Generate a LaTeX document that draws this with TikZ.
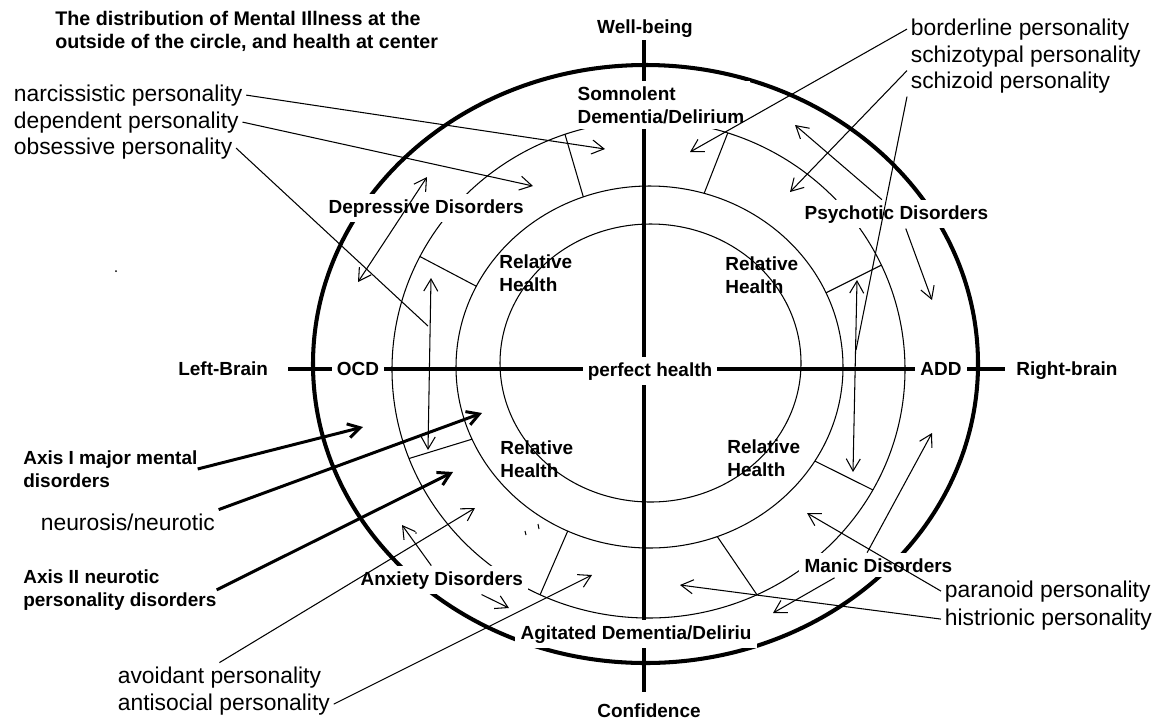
\documentclass[tikz,border=0pt]{standalone}
\usepackage{fontspec}
\setmainfont{Liberation Sans}
\usetikzlibrary{arrows.meta,calc}

\begin{document}
\begin{tikzpicture}[
      x=0.02cm, y=-0.02cm,
      lbl/.style={font=\fontsize{10.8}{12.8}\selectfont\bfseries, inner sep=0pt},
      tag/.style={lbl, fill=white, inner sep=3pt},
      pers/.style={font=\fontsize{13}{15}\selectfont, inner sep=2pt},
      ring/.style={line width=0.6pt},
      axis/.style={line width=2.3pt},
      arrow/.style={line width=0.6pt, -{Straight Barb[length=6.9pt,width=8pt]}},
      twoway/.style={line width=0.6pt, {Straight Barb[length=6.9pt,width=8pt]}-{Straight Barb[length=6.9pt,width=8pt]}},
      bigarrow/.style={line width=1.7pt, -{Straight Barb[length=6.9pt,width=8pt]}}
    ]
      \useasboundingbox (0,0) rectangle (1166,721);

      % rings, spokes and the two axes
      \draw[ring] (650.5,363) ellipse [x radius=150.5, y radius=139];
      \draw[ring] (649.5,367) ellipse [x radius=193.5, y radius=181];
      \draw[ring] (648.5,369.4) ellipse [x radius=256.5, y radius=248.6];
      \draw[axis] (645.5,364) ellipse [x radius=332.5, y radius=299];
      \foreach \a/\b in {110/109, 153.5/153, 73.6/72, 24.2/24.8, 203.5/201, 245/245, 328.7/331, 290.5/295}
        \draw[ring] ({649.5+193.5*cos(\a)},{367-181*sin(\a)}) -- ({648.5+256.5*cos(\b)},{369.4-248.6*sin(\b)});
      \draw[axis] (644,40) -- (644,692);
      \draw[axis] (288,369) -- (1005,369);

      % labels on the rings
      \node[lbl, anchor=base] (wb) at (645,33) {Well-being};
      \node[lbl, anchor=base] (conf) at (649,717) {Confidence};
      \node[lbl, anchor=base west] (lb) at (178,375) {Left-Brain};
      \node[lbl, anchor=base west] (rb) at (1016,375) {Right-brain};
      \node[tag, anchor=base] (ocd) at (358,375) {OCD};
      \node[tag, anchor=base] (add) at (941,375) {ADD};
      \node[tag, anchor=base] (ph) at (650,376) {perfect health};
      \node[tag, anchor=base west, align=left] (som) at (572,123) {Somnolent\\Dementia/Delirium};
      \node[tag, anchor=base west] (dep) at (323,213) {Depressive Disorders};
      \node[tag, anchor=base west] (psy) at (799,219) {Psychotic Disorders};
      \node[tag, anchor=base west] (anx) at (355,585) {Anxiety Disorders};
      \node[tag, anchor=base west] (man) at (799,572) {Manic Disorders};
      \node[tag, anchor=base west] (agit) at (515,639) {Agitated Dementia/Deliriu};
      \node[lbl, anchor=base west, align=left] (rh1) at (499,291) {Relative\\Health};
      \node[lbl, anchor=base west, align=left] (rh2) at (725,293) {Relative\\Health};
      \node[lbl, anchor=base west, align=left] (rh3) at (500,477) {Relative\\Health};
      \node[lbl, anchor=base west, align=left] (rh4) at (727,476) {Relative\\Health};

      % side texts
      \node[lbl, font=\fontsize{11.2}{13}\selectfont\bfseries, anchor=base west, align=left] (title) at (55,48)
        {The distribution of Mental Illness at the\\outside of the circle, and health at center};
      \node[lbl, anchor=base west, align=left] (ax1) at (23,487) {Axis I major mental\\disorders};
      \node[lbl, anchor=base west, align=left] (ax2) at (23,606) {Axis II neurotic\\personality disorders};
      \node[pers, anchor=base west] (neur) at (37,530) {neurosis/neurotic};
      \node[pers, anchor=base west] (narc) at (10,101) {narcissistic personality};
      \node[pers, anchor=base west] (depp) at (10,128) {dependent personality};
      \node[pers, anchor=base west] (obs) at (10,154) {obsessive personality};
      \node[pers, anchor=base west] (bord) at (907,35) {borderline personality};
      \node[pers, anchor=base west] (sctyp) at (907,62) {schizotypal personality};
      \node[pers, anchor=base west] (scoid) at (907,88) {schizoid personality};
      \node[pers, anchor=base west] (para) at (941,597) {paranoid personality};
      \node[pers, anchor=base west] (hist) at (941,625) {histrionic personality};
      \node[pers, anchor=base west] (avoid) at (114,683) {avoidant personality};
      \node[pers, anchor=base west] (anti) at (114,710) {antisocial personality};

      % arrow ends
      \coordinate (narcT) at (605,149);
      \coordinate (deppT) at (533,186);
      \coordinate (obsJ) at (428,326);
      \coordinate (ocdU) at (431,278);
      \coordinate (ocdD) at (428,450);
      \coordinate (depU) at (427,177);
      \coordinate (depD) at (358,282);
      \coordinate (bordT) at (690,152);
      \coordinate (sctypT) at (790,192);
      \coordinate (scoidJ) at (856,350);
      \coordinate (addU) at (857,280);
      \coordinate (addD) at (853,472);
      \coordinate (psyU) at (795,125);
      \coordinate (psyD) at (932,300);
      \coordinate (manU) at (932,433);
      \coordinate (manD) at (773,613);
      \coordinate (paraT) at (807,513);
      \coordinate (histT) at (680,585);
      \coordinate (anxU) at (402,525);
      \coordinate (anxD) at (509,608);
      \coordinate (avoidT) at (475,508);
      \coordinate (antiT) at (592,575);
      \coordinate (ax1T) at (363,427);
      \coordinate (neurT) at (482,413);
      \coordinate (ax2T) at (453,472);

      % arrows
      \draw[twoway] (ocdU) -- (ocdD);
      \draw[twoway] (addU) -- (addD);
      \draw[twoway] (depD) -- (depU);
      \draw[ring] (obs.east) -- (obsJ);
      \draw[ring] (scoid.south west) -- (scoidJ);
      \draw[arrow] (narc.east) -- (narcT);
      \draw[arrow] (depp.east) -- (deppT);
      \draw[arrow] (bord.west) -- (bordT);
      \draw[arrow] (sctyp.south west) -- (sctypT);
      \draw[arrow] (psy.135) -- (psyU);
      \draw[arrow] (psy.303) -- (psyD);
      \draw[arrow] (man.132) -- (manU);
      \draw[arrow] (man.196) -- (manD);
      \draw[arrow] (anx.126) -- (anxU);
      \draw[arrow] (anx.340) -- (anxD);
      \draw[arrow] (para.west) -- (paraT);
      \draw[arrow] (hist.west) -- (histT);
      \draw[arrow] (avoid.north) -- (avoidT);
      \draw[arrow] (anti.east) -- (antiT);
      \draw[bigarrow] (ax1.east) -- (ax1T);
      \draw[bigarrow] (neur.north east) -- (neurT);
      \draw[bigarrow] (ax2.east) -- (ax2T);

      % stray specks
      \fill (116,271) circle (1);
      \fill (416,533) circle (0.8);
      \draw[ring] (525,531) -- (526,535);
      \draw[ring] (538,524) -- (539,529);
    \end{tikzpicture}
\end{document}
